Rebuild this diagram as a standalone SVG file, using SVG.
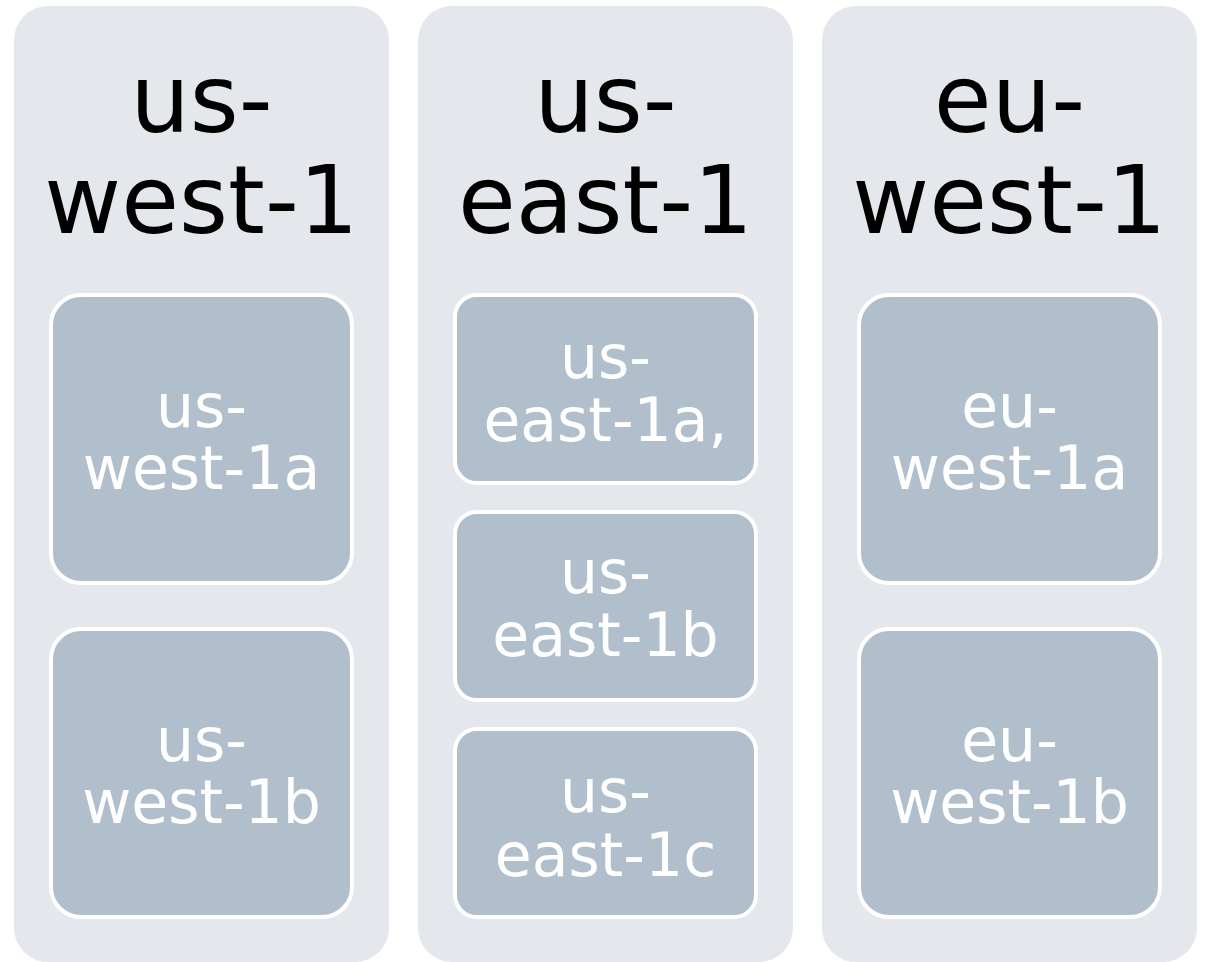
<svg xmlns="http://www.w3.org/2000/svg" width="1205" height="962" viewBox="0 0 1205 962">
<style>
.region{fill:#e4e8ed}
.az{fill:#b1bfcc;stroke:#ffffff;stroke-width:4}
.title{font-family:"DejaVu Sans",Verdana,sans-serif;font-size:94px;fill:#000000;text-anchor:middle}
.lbl{font-family:"DejaVu Sans",Verdana,sans-serif;font-size:60px;fill:#ffffff;text-anchor:middle}
</style>
<rect width="1205" height="962" fill="#ffffff"/>
<g id="region-us-west-1">
<rect class="region" x="14" y="6" width="375" height="956" rx="34"/>
<text class="title" x="201.5"><tspan x="201.5" y="132">us-</tspan><tspan x="201.5" y="233">west-1</tspan></text>
</g>
<g id="region-us-east-1">
<rect class="region" x="418" y="6" width="375" height="956" rx="34"/>
<text class="title" x="605.5"><tspan x="605.5" y="132">us-</tspan><tspan x="605.5" y="233">east-1</tspan></text>
</g>
<g id="region-eu-west-1">
<rect class="region" x="822" y="6" width="375" height="956" rx="34"/>
<text class="title" x="1009.5"><tspan x="1009.5" y="132">eu-</tspan><tspan x="1009.5" y="233">west-1</tspan></text>
</g>
<g id="az-us-west-1a">
<rect class="az" x="51" y="295" width="301" height="288" rx="30"/>
<text class="lbl"><tspan x="201.5" y="427">us-</tspan><tspan x="201.5" y="489">west-1a</tspan></text>
</g>
<g id="az-us-west-1b">
<rect class="az" x="51" y="629" width="301" height="288" rx="30"/>
<text class="lbl"><tspan x="201.5" y="761">us-</tspan><tspan x="201.5" y="823">west-1b</tspan></text>
</g>
<g id="az-us-east-1a">
<rect class="az" x="455" y="295" width="301" height="188" rx="22"/>
<text class="lbl"><tspan x="605.5" y="378">us-</tspan><tspan x="605.5" y="441">east-1a,</tspan></text>
</g>
<g id="az-us-east-1b">
<rect class="az" x="455" y="512" width="301" height="188" rx="22"/>
<text class="lbl"><tspan x="605.5" y="593">us-</tspan><tspan x="605.5" y="656">east-1b</tspan></text>
</g>
<g id="az-us-east-1c">
<rect class="az" x="455" y="729" width="301" height="188" rx="22"/>
<text class="lbl"><tspan x="605.5" y="812">us-</tspan><tspan x="605.5" y="876">east-1c</tspan></text>
</g>
<g id="az-eu-west-1a">
<rect class="az" x="859" y="295" width="301" height="288" rx="30"/>
<text class="lbl"><tspan x="1009.5" y="427">eu-</tspan><tspan x="1009.5" y="489">west-1a</tspan></text>
</g>
<g id="az-eu-west-1b">
<rect class="az" x="859" y="629" width="301" height="288" rx="30"/>
<text class="lbl"><tspan x="1009.5" y="761">eu-</tspan><tspan x="1009.5" y="823">west-1b</tspan></text>
</g>
<g id="connectors"></g>
</svg>
